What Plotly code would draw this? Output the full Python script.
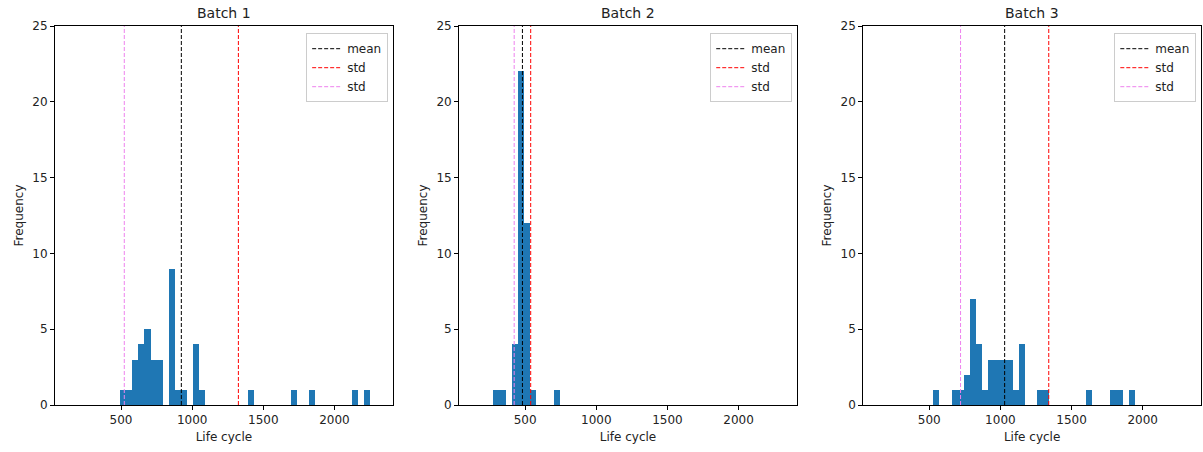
import plotly.graph_objects as go
from plotly.subplots import make_subplots

# Histogram counts per bin for each batch, with the range the bins cover
batch_names = ["Batch 1", "Batch 2", "Batch 3"]

batch1_counts = [1, 1, 3, 4, 5, 3, 3, 0, 9, 1, 1, 0, 4, 1, 0, 0, 0, 0, 0, 0,
                 0, 1, 0, 0, 0, 0, 0, 0, 1, 0, 0, 1, 0, 0, 0, 0, 0, 0, 1, 0, 1]
batch1_range = [493, 2252]

batch2_counts = [1, 1, 0, 4, 22, 12, 1, 0, 0, 0, 1]
batch2_range = [277, 749]

batch3_counts = [1, 0, 0, 1, 1, 2, 7, 4, 1, 3, 3, 3, 3, 1, 4, 0, 0, 1, 1, 0,
                 0, 0, 0, 0, 0, 1, 0, 0, 0, 1, 1, 0, 1]
batch3_range = [530, 1946]

# Mean and standard deviation of life cycle per batch
batch_means = [924, 481, 1030]
batch_stds = [401, 58, 310]

counts_all = [batch1_counts, batch2_counts, batch3_counts]
ranges_all = [batch1_range, batch2_range, batch3_range]

FONT = "DejaVu Sans"
TEXT = "#222222"
BAR_COLOR = "#1f77b4"

fig = make_subplots(rows=1, cols=3, horizontal_spacing=0.0579,
                    subplot_titles=batch_names)

for i in range(3):
    counts = counts_all[i]
    lo, hi = ranges_all[i]
    width = (hi - lo) / len(counts)
    centers = [lo + width * (k + 0.5) for k in range(len(counts))]
    col = i + 1
    fig.add_trace(go.Bar(x=centers, y=counts, width=width,
                         marker=dict(color=BAR_COLOR, line=dict(width=0)),
                         showlegend=False), row=1, col=col)
    legend_name = "legend" if i == 0 else f"legend{i + 1}"
    m, s = batch_means[i], batch_stds[i]
    for val, color, name in [(m, "black", "mean"),
                             (m + s, "red", "std"),
                             (m - s, "violet", "std")]:
        fig.add_trace(go.Scatter(x=[val, val], y=[0, 25], mode="lines",
                                 line=dict(color=color, width=1, dash="4px,2px"),
                                 name=name, legend=legend_name),
                      row=1, col=col)

    fig.update_xaxes(range=[36, 2410], tick0=0, dtick=500,
                     ticks="outside", ticklen=4, tickcolor="black",
                     showline=True, mirror=True, linecolor="black", linewidth=1,
                     showgrid=False, zeroline=False,
                     title=dict(text="Life cycle", standoff=6,
                                font=dict(size=12, color=TEXT)),
                     tickfont=dict(size=12, color=TEXT),
                     row=1, col=col)
    fig.update_yaxes(range=[0, 25], tickvals=[0, 5, 10, 15, 20, 25],
                     ticks="outside", ticklen=4, tickcolor="black",
                     showline=True, mirror=True, linecolor="black", linewidth=1,
                     showgrid=False, zeroline=False,
                     title=dict(text="Frequency", standoff=6,
                                font=dict(size=12, color=TEXT)),
                     tickfont=dict(size=12, color=TEXT),
                     row=1, col=col)

legend_style = dict(xanchor="right", yanchor="top", y=0.981,
                    bgcolor="white", bordercolor="#cccccc", borderwidth=1,
                    font=dict(family=FONT, size=12, color=TEXT),
                    itemwidth=30, tracegroupgap=0)

fig.update_layout(
    width=1203, height=452,
    margin=dict(l=55, r=2, t=26, b=47),
    paper_bgcolor="white", plot_bgcolor="white",
    font=dict(family=FONT, size=12, color=TEXT),
    bargap=0,
    legend=dict(x=0.2907, **legend_style),
    legend2=dict(x=0.6433, **legend_style),
    legend3=dict(x=0.9959, **legend_style),
)

for ann in fig.layout.annotations:
    ann.font = dict(family=FONT, size=14, color=TEXT)
    ann.yshift = 3

fig.write_html("out.html")
